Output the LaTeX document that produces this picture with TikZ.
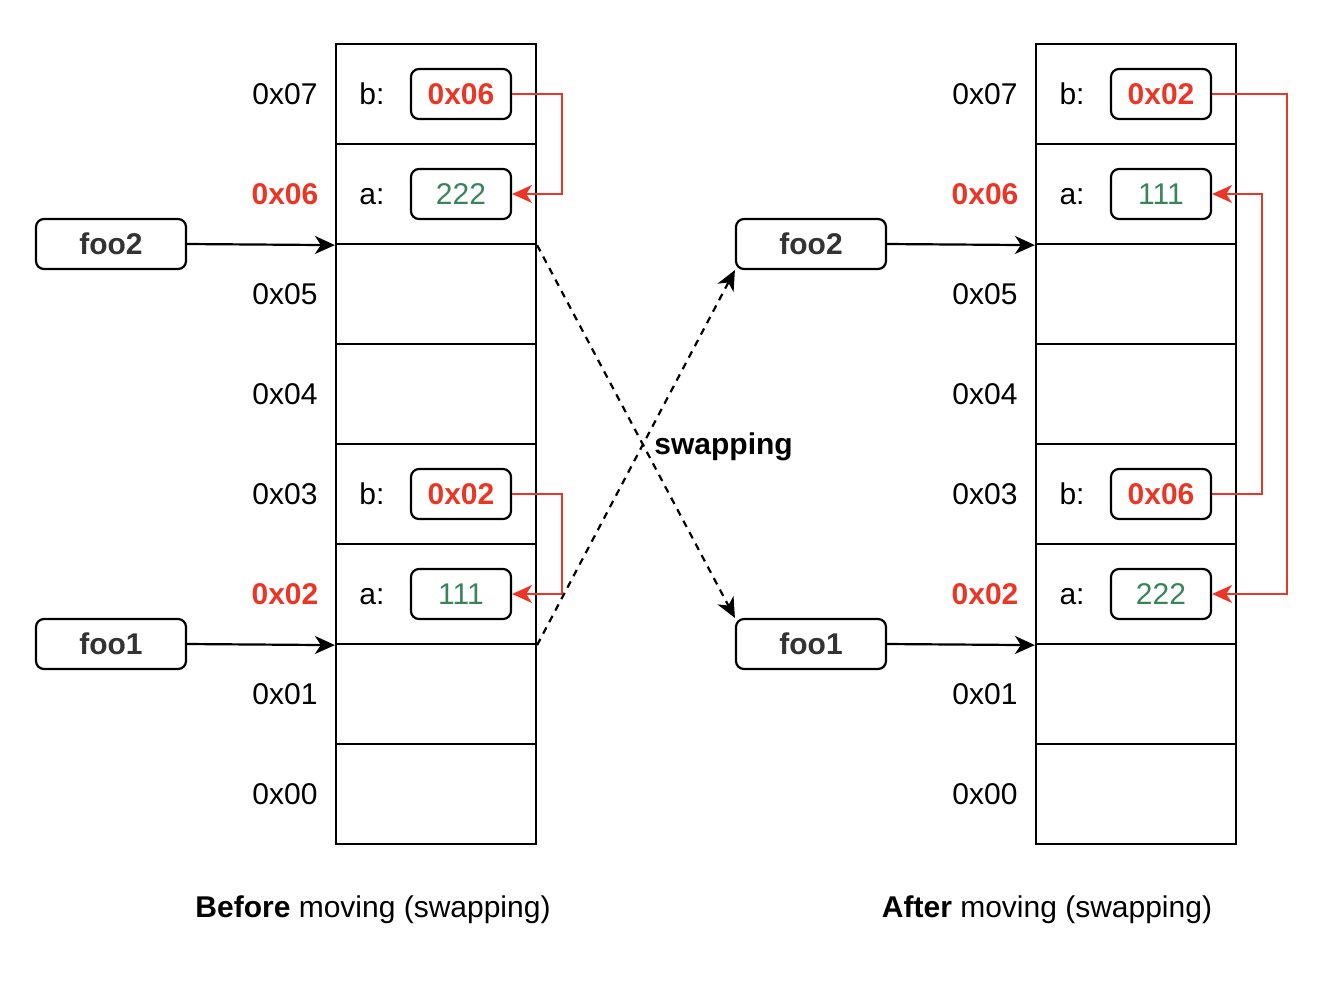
\documentclass[tikz,border=0pt]{standalone}
\usepackage{fontspec}
\setmainfont{Liberation Sans}
\usetikzlibrary{arrows.meta}
\definecolor{myred}{RGB}{234,54,38}
\definecolor{mygreen}{RGB}{58,132,92}
\definecolor{mygray}{RGB}{51,51,51}
\begin{document}
\begin{tikzpicture}[x=0.5pt,y=-0.5pt,
  every node/.style={font=\fontsize{15pt}{18pt}\selectfont, inner sep=0pt, text height=10.75pt, text depth=0pt},
  cell/.style={draw, line width=1.1pt, minimum width=100pt, minimum height=50pt},
  valbox/.style={draw, line width=1.1pt, rounded corners=4pt, minimum width=50pt, minimum height=25pt},
  ptrbox/.style={draw, line width=1.1pt, rounded corners=4pt, minimum width=75pt, minimum height=25pt, font=\fontsize{15pt}{18pt}\selectfont\bfseries, text=mygray},
  addr/.style={},
  raddr/.style={text=myred, font=\fontsize{15pt}{18pt}\selectfont\bfseries},
  redval/.style={valbox, text=myred, font=\fontsize{15pt}{18pt}\selectfont\bfseries},
  greenval/.style={valbox, text=mygreen},
  tipstyle/.style={-{Stealth[length=10pt,width=9pt,inset=3pt]}},
  arr/.style={tipstyle, line width=1.1pt},
  redarr/.style={tipstyle, line width=1pt, draw=myred, color=myred},
  dasharr/.style={tipstyle, line width=1.1pt, dash pattern=on 3.5pt off 3pt}
]
\useasboundingbox (0,0) rectangle (1332,982);

% ---------- memory columns ----------
\foreach \i/\y in {7/94,6/194,5/294,4/394,3/494,2/594,1/694,0/794}{
  \node[cell] (L\i) at (436,\y) {};
  \node[cell] (R\i) at (1136,\y) {};
}
% address labels left
\node[addr]  (la7) at (285,94) {0x07};
\node[raddr] (la6) at (285,194) {0x06};
\node[addr]  (la5) at (285,294) {0x05};
\node[addr]  (la4) at (285,394) {0x04};
\node[addr]  (la3) at (285,494) {0x03};
\node[raddr] (la2) at (285,594) {0x02};
\node[addr]  (la1) at (285,694) {0x01};
\node[addr]  (la0) at (285,794) {0x00};
% address labels right
\node[addr]  (ra7) at (985,94) {0x07};
\node[raddr] (ra6) at (985,194) {0x06};
\node[addr]  (ra5) at (985,294) {0x05};
\node[addr]  (ra4) at (985,394) {0x04};
\node[addr]  (ra3) at (985,494) {0x03};
\node[raddr] (ra2) at (985,594) {0x02};
\node[addr]  (ra1) at (985,694) {0x01};
\node[addr]  (ra0) at (985,794) {0x00};

% field labels
\node (lb7n) at (372,94) {b:};
\node (la6n) at (372,194) {a:};
\node (lb3n) at (372,494) {b:};
\node (la2n) at (372,594) {a:};
\node (rb7n) at (1072,94) {b:};
\node (ra6n) at (1072,194) {a:};
\node (rb3n) at (1072,494) {b:};
\node (ra2n) at (1072,594) {a:};

% values left
\node[redval]   (Lb7) at (461,94)  {0x06};
\node[greenval] (La6) at (461,194) {222};
\node[redval]   (Lb3) at (461,494) {0x02};
\node[greenval] (La2) at (461,594) {111};
% values right
\node[redval]   (Rb7) at (1161,94)  {0x02};
\node[greenval] (Ra6) at (1161,194) {111};
\node[redval]   (Rb3) at (1161,494) {0x06};
\node[greenval] (Ra2) at (1161,594) {222};

% red pointer arrows
\draw[redarr] (Lb7.east) -- ++(50,0) |- (La6.east);
\draw[redarr] (Lb3.east) -- ++(50,0) |- (La2.east);
\draw[redarr] (Rb7.east) -- ++(75,0) |- (Ra2.east);
\draw[redarr] (Rb3.east) -- ++(50,0) |- (Ra6.east);

% foo boxes
\node[ptrbox] (foo2L) at (111,244) {foo2};
\node[ptrbox] (foo1L) at (111,644) {foo1};
\node[ptrbox] (foo2R) at (811,244) {foo2};
\node[ptrbox] (foo1R) at (811,644) {foo1};

\draw[arr] (foo2L.east) -- (L6.south west);
\draw[arr] (foo1L.east) -- (L2.south west);
\draw[arr] (foo2R.east) -- (R6.south west);
\draw[arr] (foo1R.east) -- (R2.south west);

% swapping
\draw[dasharr] (L6.south east) -- (foo1R.north west);
\draw[dasharr] (L2.south east) -- (foo2R.south west);
\node[anchor=west, font=\fontsize{15pt}{18pt}\selectfont\bfseries] (swap) at (654,444) {swapping};

% captions
\node (capL) at (373,907) {\textbf{Before} moving (swapping)};
\node (capR) at (1047,907) {\textbf{After} moving (swapping)};
\end{tikzpicture}
\end{document}
